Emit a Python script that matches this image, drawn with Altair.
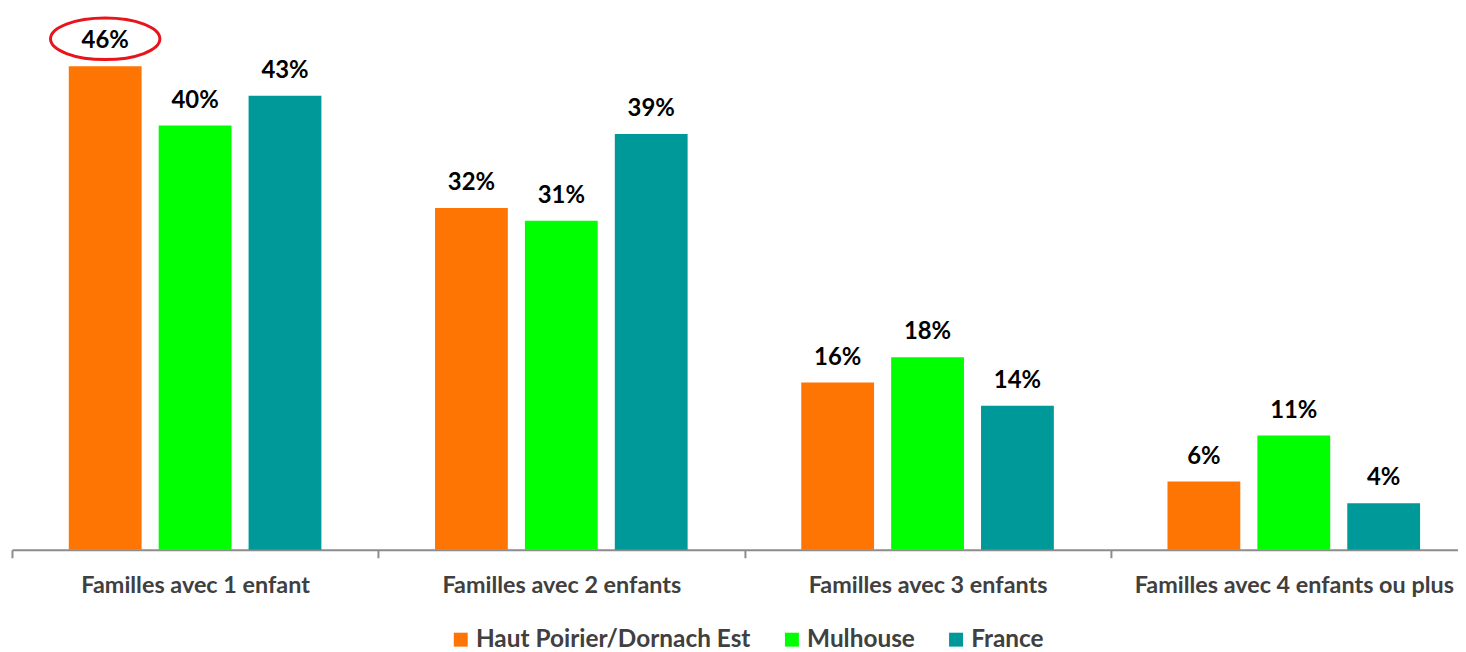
import altair as alt
import pandas as pd

categories = [
    "Familles avec 1 enfant",
    "Familles avec 2 enfants",
    "Familles avec 3 enfants",
    "Familles avec 4 enfants ou plus",
]
series = ["Haut Poirier/Dornach Est", "Mulhouse", "France"]
colors = ["#FF7504", "#00FF00", "#009999"]

haut = [45.7, 32.3, 15.8, 6.45]
mulhouse = [40.1, 31.1, 18.2, 10.8]
france = [42.9, 39.3, 13.6, 4.4]

highlight_category = categories[0]
highlight_series = series[0]

rows = []
for s, vals in zip(series, [haut, mulhouse, france]):
    for c, v in zip(categories, vals):
        rows.append({"category": c, "series": s, "value": v})
df = pd.DataFrame(rows)

FONT = "Lato"
ELLIPSE = ("M -1 0 C -1 -0.21 -0.552 -0.38 0 -0.38 C 0.552 -0.38 1 -0.21 1 0 "
           "C 1 0.21 0.552 0.38 0 0.38 C -0.552 0.38 -1 0.21 -1 0 Z")

x_enc = alt.X(
    "category:N",
    sort=categories,
    scale=alt.Scale(range=[0, 1473], paddingInner=0, paddingOuter=0),
    axis=alt.Axis(
        title=None,
        labelAngle=0,
        labelFont=FONT,
        labelFontSize=23.5,
        labelFontWeight="bold",
        labelColor="#404040",
        labelPadding=16,
        labelLimit=0,
        domainColor="#8C8C8C",
        domainWidth=2,
        tickColor="#8C8C8C",
        tickWidth=2,
        tickSize=8,
        tickBand="extent",
        grid=False,
    ),
)
xoff_enc = alt.XOffset(
    "series:N", sort=series, scale=alt.Scale(paddingInner=0.19, paddingOuter=0.632)
)
y_enc = alt.Y("value:Q", scale=alt.Scale(domain=[0, 51.03]), axis=None)

base = alt.Chart(df).encode(x=x_enc, xOffset=xoff_enc, y=y_enc)

bars = base.mark_bar().encode(
    color=alt.Color(
        "series:N",
        sort=series,
        scale=alt.Scale(domain=series, range=colors),
        legend=alt.Legend(
            title=None,
            orient="none",
            direction="horizontal",
            legendX=439,
            legendY=621,
            symbolType="square",
            symbolSize=196,
            symbolStrokeWidth=0,
            symbolOpacity=1,
            labelFont=FONT,
            labelFontSize=24.5,
            labelFontWeight="bold",
            labelColor="#404040",
            labelOffset=3,
            labelLimit=0,
            columnPadding=29,
        ),
    )
)

labels = base.transform_calculate(
    label="format(datum.value, '.0f') + '%'"
).mark_text(
    font=FONT, fontSize=24, fontWeight="bold", color="black", baseline="alphabetic", dy=-18
).encode(text="label:N")

ellipse = base.transform_filter(
    (alt.datum.category == highlight_category) & (alt.datum.series == highlight_series)
).mark_point(
    shape=ELLIPSE, size=12100, filled=False, stroke="#E8141B", strokeWidth=3, opacity=1, yOffset=-27.5
)

chart = (
    alt.layer(bars, labels, ellipse)
    .properties(
        width=1454,
        height=543,
        autosize=alt.AutoSizeParams(type="none"),
        padding={"left": 4, "top": 0, "right": 0, "bottom": 101},
    )
    .configure_view(stroke=None)
)

chart.save("out.html", embed_options={"renderer": "svg", "actions": False})
